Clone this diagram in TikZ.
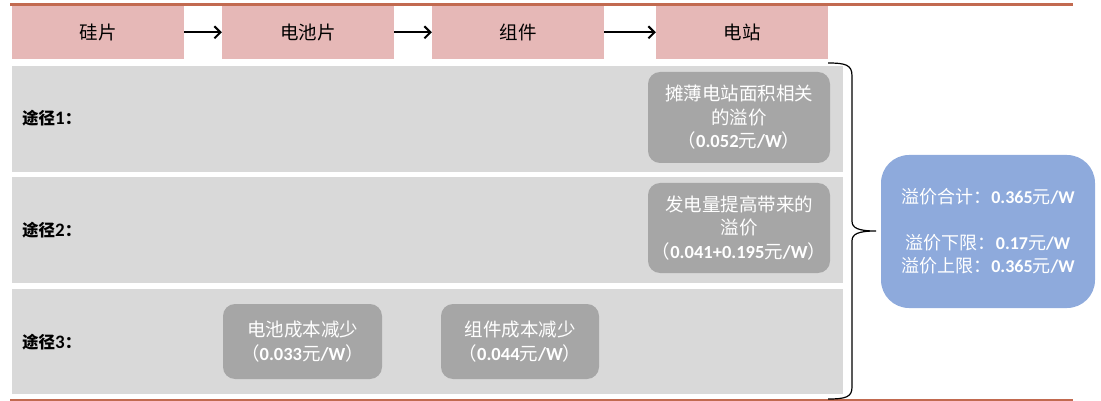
\documentclass[tikz,border=0pt]{standalone}
\usepackage{fontspec}
\setmainfont{Carlito}
\newfontfamily\cjkfont{Noto Sans CJK SC}
\newcommand\zh[1]{{\cjkfont #1}}
\usetikzlibrary{arrows.meta}
\definecolor{pinkbox}{HTML}{E6B8B7}
\definecolor{rowgray}{HTML}{D9D9D9}
\definecolor{boxgray}{HTML}{A6A6A6}
\definecolor{bluebox}{HTML}{8EAADC}
\definecolor{rule}{HTML}{C26A50}
\tikzset{
  topbox/.style={fill=pinkbox, minimum width=172pt, minimum height=52.5pt, inner sep=0pt, font=\fontsize{18.5}{20}\selectfont},
  rowbox/.style={fill=rowgray, minimum width=831pt, inner sep=0pt},
  lab/.style={anchor=west, inner sep=0pt, font=\fontsize{16.5}{18}\selectfont\bfseries},
  gbox/.style={fill=boxgray, rounded corners=12pt, inner sep=0pt, text=white, align=center, font=\fontsize{18.5}{23.5}\selectfont},
  bbox/.style={fill=bluebox, rounded corners=28pt, inner sep=0pt, text=white, align=center, font=\fontsize{18}{23}\selectfont},
  arr/.style={draw=black, line width=2pt, -{Straight Barb[length=6pt,width=12pt,line width=2pt]}},
}
\newcommand\dg[1]{{\fontsize{19}{18}\selectfont #1}}
\begin{document}
\begin{tikzpicture}[x=1pt,y=-1pt]
\useasboundingbox (0,0) rectangle (1101,401);
% rules
\draw[rule, line width=2.5pt] (10,4.5) -- (1073,4.5);
\draw[rule, line width=1.2pt] (10,400) -- (1073,400);
% top chain
\node[topbox] (s1) at (98,32.3) {\zh{硅片}};
\node[topbox] (s2) at (308,32.3) {\zh{电池片}};
\node[topbox] (s3) at (518,32.3) {\zh{组件}};
\node[topbox] (s4) at (742,32.3) {\zh{电站}};
\draw[arr] (s1.east) -- (s2.west);
\draw[arr] (s2.east) -- (s3.west);
\draw[arr] (s3.east) -- (s4.west);
% rows
\node[rowbox, minimum height=106pt] (r1) at (427.5,119) {};
\node[rowbox, minimum height=106pt] (r2) at (427.5,230) {};
\node[rowbox, minimum height=105pt] (r3) at (427.5,341.5) {};
\node[lab] (l1) at (22,118) {\zh{途径}\dg{1}\zh{：}};
\node[lab] (l2) at (22,230) {\zh{途径}\dg{2}\zh{：}};
\node[lab] (l3) at (22,342) {\zh{途径}\dg{3}\zh{：}};
% gray boxes
\node[gbox, minimum width=182pt, minimum height=91pt] (g1) at (739,117.5)
  {\zh{摊薄电站面积相关}\\\zh{的溢价}\\\zh{（}\textbf{0.052}\zh{元}\textbf{/W}\zh{）}};
\node[gbox, minimum width=182pt, minimum height=90pt] (g2) at (739,228)
  {\zh{发电量提高带来的}\\\zh{溢价}\\\zh{（}\textbf{0.041+0.195}\zh{元}\textbf{/W}\zh{）}};
\node[gbox, minimum width=159pt, minimum height=75pt] (ga) at (302.5,341.5)
  {\zh{电池成本减少}\\\zh{（}\textbf{0.033}\zh{元}\textbf{/W}\zh{）}};
\node[gbox, minimum width=158pt, minimum height=75pt] (gb) at (520,341.5)
  {\zh{组件成本减少}\\\zh{（}\textbf{0.044}\zh{元}\textbf{/W}\zh{）}};
% blue summary
\node[bbox, minimum width=214pt, minimum height=153pt] (sum) at (988,231.5)
  {\zh{溢价合计：}\textbf{0.365}\zh{元}\textbf{/W}\\[23pt]
   \zh{溢价下限：}\textbf{0.17}\zh{元}\textbf{/W}\\
   \zh{溢价上限：}\textbf{0.365}\zh{元}\textbf{/W}};
% brace
\coordinate (bt) at (828,63);
\coordinate (bb) at (828,399);
\coordinate (tip) at (876,231);
\draw[line width=1.2pt] (bt) .. controls (846,63) and (852,65) .. (852,76)
  -- (852,221) .. controls (852,228) and (858,231) .. (tip)
  .. controls (858,231) and (852,234) .. (852,241)
  -- (852,387) .. controls (852,397) and (846,399) .. (bb);
\end{tikzpicture}
\end{document}
